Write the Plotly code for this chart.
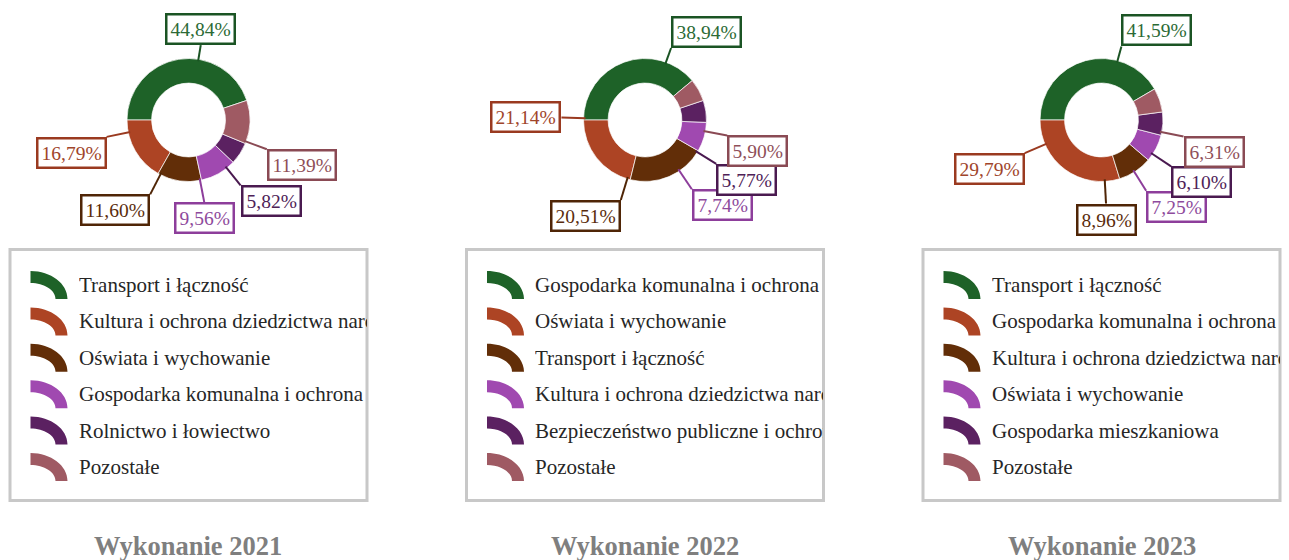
import math
import plotly.graph_objects as go

W, H = 1289, 560
FONT = "Liberation Serif, Times New Roman, serif"

# ---------------- data ----------------
titles = ["Wykonanie 2021", "Wykonanie 2022", "Wykonanie 2023"]

labels_2021 = ["Transport i łączność", "Kultura i ochrona dziedzictwa narodowego",
               "Oświata i wychowanie", "Gospodarka komunalna i ochrona środowiska",
               "Rolnictwo i łowiectwo", "Pozostałe"]
values_2021 = [44.84, 16.79, 11.60, 9.56, 5.82, 11.39]

labels_2022 = ["Gospodarka komunalna i ochrona środowiska", "Oświata i wychowanie",
               "Transport i łączność", "Kultura i ochrona dziedzictwa narodowego",
               "Bezpieczeństwo publiczne i ochrona przeciwpożarowa", "Pozostałe"]
values_2022 = [38.94, 21.14, 20.51, 7.74, 5.77, 5.90]

labels_2023 = ["Transport i łączność", "Gospodarka komunalna i ochrona środowiska",
               "Kultura i ochrona dziedzictwa narodowego", "Oświata i wychowanie",
               "Gospodarka mieszkaniowa", "Pozostałe"]
values_2023 = [41.59, 29.79, 8.96, 7.25, 6.10, 6.31]

slice_colors = ["#1e6228", "#ad4424", "#622e08", "#a049b0", "#5b2161", "#9f5a63"]
border_colors = ["#1b5424", "#9a3a20", "#4f2506", "#8d3e9b", "#4a1a50", "#8a4a54"]
text_colors = ["#2b6a35", "#a0452b", "#5a2c0c", "#8e4a9c", "#4e2257", "#8f4f59"]

# ---------------- layout geometry ----------------
centers_x = [188.5, 645, 1101.5]
center_y = 120
R = 61.5
HOLE = 0.6
box_w, box_top, box_bot = 360, 248, 502
row_y0, row_step = 285, 36.4


def px(x):
    return x / W


def py(y):
    return 1 - y / H


def fmt(v):
    return f"{v:.2f}".replace(".", ",") + "%"


fig = go.Figure()
shapes = []
annotations = []

datasets = [(labels_2021, values_2021), (labels_2022, values_2022), (labels_2023, values_2023)]

for k, (labels, values) in enumerate(datasets):
    cx = centers_x[k]
    fig.add_trace(go.Pie(
        labels=labels, values=values, hole=HOLE, sort=False,
        direction="counterclockwise", rotation=-90,
        marker=dict(colors=slice_colors, line=dict(color="rgba(255,255,255,0.7)", width=1)),
        textinfo="none", showlegend=False, hoverinfo="label+percent",
        domain=dict(x=[px(cx - R), px(cx + R)], y=[py(center_y + R), py(center_y - R)]),
    ))

    # outside labels with connector lines
    total = sum(values)
    cum = 0
    for i, v in enumerate(values):
        mid = (cum + v / 2) / total * 2 * math.pi
        cum += v
        c, s = math.cos(mid), math.sin(mid)
        x1, y1 = cx + (R - 2) * c, center_y - (R - 2) * s
        r_end = R * 1.36 - 8 * max(s, 0) ** 2
        x2, y2 = cx + r_end * c, center_y - r_end * s
        shapes.append(dict(type="line", xref="paper", yref="paper",
                           x0=px(x1), y0=py(y1), x1=px(x2), y1=py(y2),
                           line=dict(color=border_colors[i], width=2)))
        xa = "left" if c > 0.25 else ("right" if c < -0.25 else "center")
        ya = "middle" if abs(s) < 0.1 else ("bottom" if s > 0 else "top")
        annotations.append(dict(
            x=px(x2), y=py(y2), xref="paper", yref="paper", showarrow=False,
            xanchor=xa, yanchor=ya, text=fmt(v),
            font=dict(family=FONT, size=19.5, color=text_colors[i]),
            bgcolor="white", bordercolor=border_colors[i], borderwidth=2.5, borderpad=3,
        ))

    # legend box
    bx0 = cx - box_w / 2
    bx1 = cx + box_w / 2
    shapes.append(dict(type="rect", xref="paper", yref="paper",
                       x0=px(bx0 + 1.5), x1=px(bx1 - 1.5), y0=py(box_top + 1.5), y1=py(box_bot - 1.5),
                       line=dict(color="#c8c8c8", width=3), fillcolor="rgba(0,0,0,0)"))
    for i, lab in enumerate(labels):
        yc = row_y0 + i * row_step
        # arc icon (quarter ring), corner at bottom-left
        x0 = bx0 + 22
        yb = yc + 14
        rx, ry, rix, riy = 37, 28, 25, 16
        kk = 0.5523
        pts = [
            ("M", [(x0, yb - ry)]),
            ("C", [(x0 + kk * rx, yb - ry), (x0 + rx, yb - kk * ry), (x0 + rx, yb)]),
            ("L", [(x0 + rix, yb)]),
            ("C", [(x0 + rix, yb - kk * riy), (x0 + kk * rix, yb - riy), (x0, yb - riy)]),
        ]
        path = ""
        for cmd, pl in pts:
            path += cmd + " " + " ".join(f"{px(a):.6f},{py(b):.6f}" for a, b in pl) + " "
        path += "Z"
        shapes.append(dict(type="path", xref="paper", yref="paper", path=path,
                           fillcolor=slice_colors[i], line=dict(width=0)))
        tx = bx0 + 69
        annotations.append(dict(
            x=px(tx), y=py(yc), xref="paper", yref="paper", showarrow=False,
            xanchor="left", yanchor="middle", align="left", text=lab,
            width=bx1 - 3 - tx, borderpad=0,
            font=dict(family=FONT, size=21, color="#262626"),
        ))

    # title
    annotations.append(dict(
        x=px(cx), y=py(546), xref="paper", yref="paper", showarrow=False,
        xanchor="center", yanchor="middle", text=f"<b>{titles[k]}</b>",
        font=dict(family=FONT, size=26.5, color="#7f7f7f"),
    ))

fig.update_layout(
    width=W, height=H, margin=dict(l=0, r=0, t=0, b=0),
    paper_bgcolor="white", plot_bgcolor="white",
    shapes=shapes, annotations=annotations, showlegend=False,
)

fig.write_html("out.html", config={"displayModeBar": False},
               post_script="document.body.style.margin='0';document.body.style.overflow='hidden';")
